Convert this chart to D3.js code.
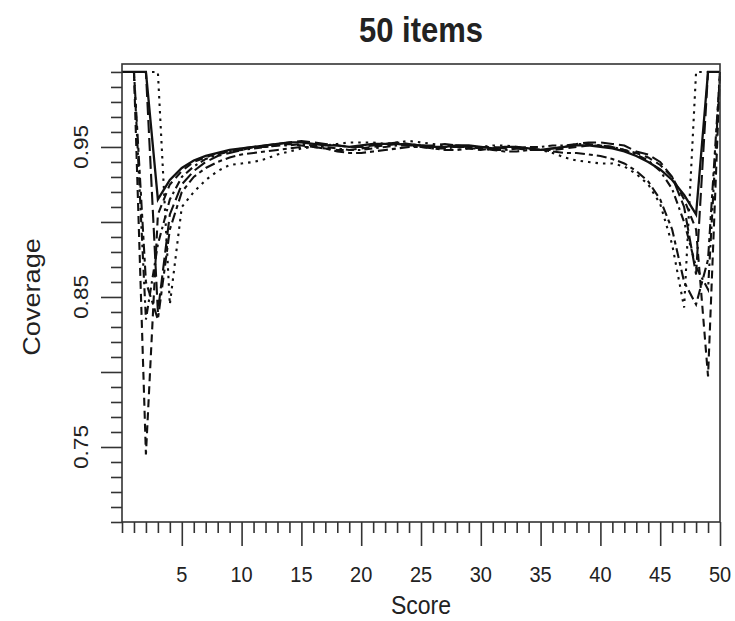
<!DOCTYPE html>
<html>
<head>
<meta charset="utf-8">
<script src="https://cdn.jsdelivr.net/npm/d3@7"></script>
<style>
  body { margin: 0; background: #fff; }
  text { font-family: "Liberation Sans", Arial, sans-serif; fill: #222; }
</style>
</head>
<body>
<div id="chart"></div>
<script>
// scores 0..50 and coverage for six interval methods
const scores = d3.range(0, 51);

const covSolid = [1, 1, 1, 0.915, 0.928, 0.936, 0.941, 0.944, 0.946, 0.948, 0.949, 0.950, 0.951, 0.952, 0.953, 0.953, 0.952, 0.951, 0.951, 0.950,
  0.951, 0.952, 0.952, 0.952, 0.951, 0.951, 0.950, 0.950, 0.951, 0.951, 0.950, 0.949, 0.950, 0.950, 0.949, 0.948, 0.949, 0.950, 0.951, 0.951,
  0.950, 0.949, 0.947, 0.944, 0.940, 0.935, 0.928, 0.918, 0.905, 1, 1];
const covDashed = [1, 1, 0.745, 0.905, 0.925, 0.934, 0.940, 0.943, 0.946, 0.947, 0.949, 0.950, 0.950, 0.951, 0.952, 0.951, 0.950, 0.949, 0.948, 0.948,
  0.949, 0.950, 0.951, 0.952, 0.952, 0.951, 0.950, 0.950, 0.950, 0.949, 0.948, 0.949, 0.950, 0.950, 0.949, 0.948, 0.948, 0.949, 0.950, 0.951,
  0.951, 0.950, 0.948, 0.946, 0.943, 0.938, 0.930, 0.915, 0.895, 0.797, 1];
const covDotted = [1, 1, 1, 1, 0.845, 0.910, 0.920, 0.928, 0.934, 0.938, 0.939, 0.940, 0.942, 0.945, 0.947, 0.949, 0.950, 0.951, 0.952, 0.953,
  0.953, 0.953, 0.952, 0.953, 0.954, 0.953, 0.952, 0.951, 0.951, 0.950, 0.950, 0.951, 0.951, 0.950, 0.949, 0.948, 0.946, 0.943, 0.941, 0.940,
  0.939, 0.939, 0.937, 0.932, 0.925, 0.912, 0.885, 0.843, 1, 1, 1];
const covDotDash = [1, 1, 0.835, 0.885, 0.915, 0.930, 0.937, 0.942, 0.945, 0.947, 0.948, 0.949, 0.950, 0.951, 0.951, 0.952, 0.951, 0.950, 0.949, 0.948,
  0.948, 0.949, 0.950, 0.951, 0.951, 0.950, 0.949, 0.949, 0.950, 0.950, 0.949, 0.948, 0.948, 0.949, 0.950, 0.950, 0.951, 0.951, 0.952, 0.952,
  0.951, 0.950, 0.948, 0.945, 0.941, 0.934, 0.922, 0.900, 0.870, 0.855, 1];
const covLongDash = [1, 1, 1, 0.840, 0.905, 0.925, 0.934, 0.940, 0.944, 0.946, 0.948, 0.950, 0.951, 0.952, 0.953, 0.954, 0.953, 0.952, 0.951, 0.950,
  0.950, 0.951, 0.952, 0.953, 0.952, 0.951, 0.951, 0.952, 0.951, 0.950, 0.950, 0.950, 0.949, 0.949, 0.948, 0.948, 0.949, 0.950, 0.952, 0.953,
  0.953, 0.952, 0.951, 0.947, 0.945, 0.940, 0.930, 0.910, 0.865, 1, 1];
const covTwoDash = [1, 1, 0.860, 0.835, 0.895, 0.920, 0.930, 0.936, 0.940, 0.943, 0.945, 0.946, 0.947, 0.948, 0.949, 0.950, 0.950, 0.949, 0.947, 0.946,
  0.946, 0.947, 0.948, 0.949, 0.950, 0.950, 0.949, 0.948, 0.948, 0.949, 0.949, 0.948, 0.947, 0.947, 0.948, 0.948, 0.947, 0.946, 0.946, 0.945,
  0.944, 0.942, 0.939, 0.934, 0.927, 0.915, 0.895, 0.860, 0.845, 0.875, 1];

const seriesList = [covSolid, covDashed, covDotted, covDotDash, covLongDash, covTwoDash];
const dashes = [null, "8,5", "2.5,5", "2.5,4,8,4", "13,5", "4,4,10,4"];

const xTicks = d3.range(0, 51);
const xMajor = d3.range(5, 51, 5);
const yTicks = d3.range(70, 101).map(d => d / 100);
const yMajor = [0.75, 0.80, 0.85, 0.90, 0.95];
const yLabels = [0.75, 0.85, 0.95];

const W = 735, H = 621;
const plotLeft = 122, plotRight = 720, plotTop = 64, plotBottom = 522;
const stretch = 1.13; // the original picture is a bit taller than wide

const x = d3.scaleLinear().domain([0, 50]).range([plotLeft, plotRight]);
const y = d3.scaleLinear().domain([0.70, 1.0053]).range([plotBottom, plotTop]);

const svg = d3.select("#chart").append("svg")
    .attr("width", W)
    .attr("height", H);

// curves
const line = d3.line()
    .x((d, i) => x(scores[i]))
    .y(d => y(d));

svg.selectAll(".curve")
    .data(seriesList)
  .join("path")
    .attr("class", "curve")
    .attr("d", line)
    .attr("fill", "none")
    .attr("stroke", "#111")
    .attr("stroke-width", (d, i) => i === 0 ? 2.3 : 2.1)
    .attr("stroke-dasharray", (d, i) => dashes[i]);

// box
svg.append("rect")
    .attr("x", plotLeft).attr("y", plotTop)
    .attr("width", plotRight - plotLeft).attr("height", plotBottom - plotTop)
    .attr("fill", "none")
    .attr("stroke", "#333")
    .attr("stroke-width", 1.6);

// x axis ticks
const isMajorX = d => xMajor.includes(d);
svg.append("g")
    .attr("transform", `translate(0,${plotBottom})`)
    .call(d3.axisBottom(x).tickValues(xTicks).tickSize(0).tickFormat(""))
    .call(g => g.select(".domain").remove())
    .call(g => g.selectAll(".tick line")
        .attr("y2", d => isMajorX(d) ? 24 : 11)
        .attr("stroke", "#333")
        .attr("stroke-width", 1.6));

svg.append("g")
    .selectAll("text")
    .data(xMajor)
  .join("text")
    .attr("transform", d => `translate(${x(d)},582) scale(1,${stretch})`)
    .attr("text-anchor", "middle")
    .attr("font-size", 20)
    .text(d => d);

// y axis ticks
const isMajorY = d => yMajor.some(m => Math.abs(m - d) < 1e-9);
svg.append("g")
    .attr("transform", `translate(${plotLeft},0)`)
    .call(d3.axisLeft(y).tickValues(yTicks).tickSize(0).tickFormat(""))
    .call(g => g.select(".domain").remove())
    .call(g => g.selectAll(".tick line")
        .attr("x2", d => isMajorY(d) ? -21 : -11)
        .attr("stroke", "#333")
        .attr("stroke-width", 1.6));

svg.append("g")
    .selectAll("text")
    .data(yLabels)
  .join("text")
    .attr("transform", d => `translate(88,${y(d)}) rotate(-90) scale(${stretch},1)`)
    .attr("text-anchor", "middle")
    .attr("font-size", 20)
    .text(d => d.toFixed(2));

// titles
svg.append("text")
    .attr("transform", `translate(${(plotLeft + plotRight) / 2},42) scale(1,${stretch})`)
    .attr("text-anchor", "middle")
    .attr("font-size", 31)
    .attr("font-weight", "bold")
    .text("50 items");

svg.append("text")
    .attr("transform", `translate(${(plotLeft + plotRight) / 2},614) scale(1,${stretch})`)
    .attr("text-anchor", "middle")
    .attr("font-size", 23)
    .text("Score");

svg.append("text")
    .attr("transform", `translate(40,${y(0.85)}) rotate(-90) scale(${stretch},1)`)
    .attr("text-anchor", "middle")
    .attr("font-size", 24)
    .text("Coverage");
</script>
</body>
</html>
